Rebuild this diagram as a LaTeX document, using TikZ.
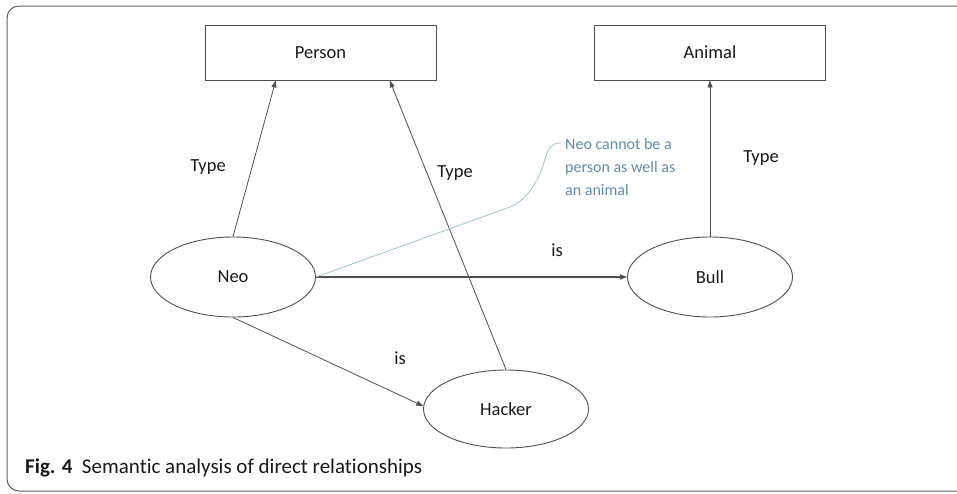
\documentclass[tikz,border=0pt]{standalone}
\usepackage{fontspec}
\setmainfont{Carlito}[Ligatures=NoCommon]
\usetikzlibrary{shapes.geometric,arrows.meta,calc}
\definecolor{linegray}{RGB}{80,80,80}
\definecolor{framegray}{RGB}{95,95,95}
\definecolor{textdark}{RGB}{25,25,25}
\definecolor{noteblue}{RGB}{95,140,180}
\definecolor{notelink}{RGB}{160,196,206}
\begin{document}
\begin{tikzpicture}[x=1pt,y=-1pt,
  labelfont/.style={font=\fontsize{18.5}{22}\selectfont,text=textdark},
  box/.style={draw=linegray,line width=0.9pt,minimum width=231pt,minimum height=55pt,inner sep=0pt,labelfont},
  oval/.style={ellipse,draw=linegray,line width=0.9pt,minimum width=165pt,minimum height=80pt,inner sep=0pt,labelfont},
  link/.style={draw=linegray,line width=0.8pt,-{Triangle[length=7pt,width=5pt]}},
  lbl/.style={labelfont,inner sep=0pt},
]
\useasboundingbox (0,0) rectangle (957,493);
% outer frame, open to the right
\draw[framegray,line width=1pt,rounded corners=12pt] (990,6) -- (7,6) -- (7,491) -- (990,491);

% class boxes
\node[box] (person) at (320.5,52.5) {Person};
\node[box] (animal) at (710,52.5) {Animal};

% instances
\node[oval] (neo) at (233,277) {Neo};
\node[oval] (bull) at (710,277) {Bull};
\node[oval,minimum height=78pt] (hacker) at (506,409) {Hacker};

% relations
\draw[link] (neo.north) -- (person.212);
\draw[link] (hacker.north) -- (person.338);
\draw[link] (bull.north) -- (animal.south);
\draw[link,line width=1.1pt] (neo.east) -- (bull.west);
\draw[link] (neo.south) -- (hacker.178);

% edge labels
\node[lbl] (t1) at (208,167) {Type};
\node[lbl] (t2) at (455,173) {Type};
\node[lbl] (t3) at (761,158) {Type};
\node[lbl] (i1) at (557,250) {is};
\node[lbl] (i2) at (400,358) {is};

% annotation
\node[anchor=north west,inner sep=0pt,align=left,text=noteblue,
      font=\fontsize{16}{23}\selectfont] (note) at (565,138)
  {Neo cannot be a\\person as well as\\an animal};
\coordinate (hook) at (561,143);
\draw[notelink,line width=0.8pt] (neo.east) -- (510,207)
  .. controls (530,198) and (540,178) .. (546,156)
  .. controls (549,146) and (553,143) .. (hook);

% caption
\node[anchor=base west,inner sep=0pt,text=textdark,font=\fontsize{21}{24}\selectfont] (cap) at (25,473)
  {\textbf{Fig. 4}\hspace{0.45em}Semantic analysis of direct relationships};
\end{tikzpicture}
\end{document}
